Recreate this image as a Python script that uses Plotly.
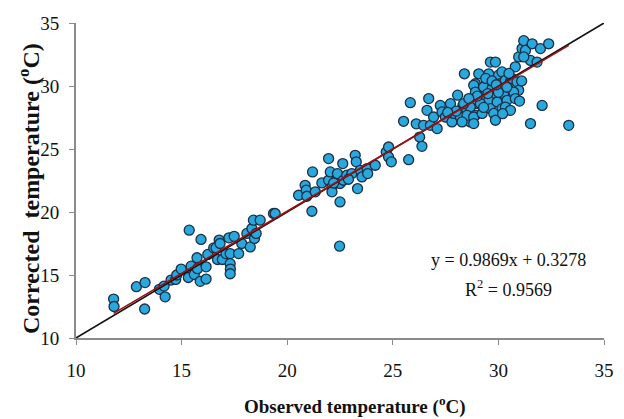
import plotly.graph_objects as go

observed = [
    11.78, 11.80, 12.86, 13.27, 13.25, 13.95, 14.17, 14.22, 14.50, 14.72, 14.77, 14.98,
    15.36, 15.32, 15.45, 15.60, 15.75, 15.73, 15.92, 15.88, 16.16, 16.16, 16.24, 16.52,
    16.63, 16.70, 16.78, 16.82, 16.93, 17.10, 17.24, 17.30, 17.30, 17.31, 17.30, 17.49,
    17.70, 17.85, 18.09, 18.25, 18.33, 18.40, 18.45, 18.53, 18.72, 19.35, 19.43, 21.17,
    20.54, 20.85, 20.90, 20.93, 21.20, 21.33, 21.64, 21.96, 21.96, 22.04, 22.12, 22.12,
    22.38, 22.50, 22.48, 22.50, 22.63, 22.66, 22.82, 23.06, 23.22, 23.27, 23.33, 23.46,
    23.54, 23.78, 23.81, 24.17, 24.69, 24.80, 24.80, 24.93, 22.20, 22.90,
    25.75, 25.51, 25.83, 26.11, 26.27, 26.38, 26.46, 26.62, 26.70, 26.78, 26.93, 27.10,
    27.25, 27.33, 27.49, 27.73, 27.80, 27.88, 28.07, 28.20, 28.32, 28.51, 28.67, 28.39,
    28.91, 28.99, 28.91,
    29.07, 29.54, 29.62, 29.86, 29.46, 30.01, 30.17, 28.83, 28.91, 29.30, 29.23, 29.70,
    30.09, 30.33, 30.57, 30.65, 30.88, 30.96, 30.72, 30.25, 29.86, 29.54, 29.15, 28.67,
    28.36, 28.51, 28.83, 29.23, 29.62, 29.94, 30.17, 30.41, 30.33, 30.57, 29.78, 29.86,
    28.28, 28.83, 32.07, 31.52, 33.33, 30.80, 30.96, 31.12, 31.20, 31.28, 31.60, 31.52,
    31.83, 31.99, 32.38, 31.20,
    29.40, 30.40, 29.00, 30.00, 29.70, 30.50, 29.30, 30.80, 28.60, 29.90, 31.10, 31.00,
    30.20, 29.50, 28.00, 27.60,
]
corrected = [
    13.09, 12.50, 14.07, 14.40, 12.30, 13.86, 14.12, 13.27, 14.60, 14.65, 15.00, 15.47,
    18.56, 14.80, 15.70, 15.05, 15.50, 16.37, 17.82, 14.50, 14.68, 15.65, 16.63, 17.15,
    17.15, 16.23, 17.77, 17.50, 16.23, 16.70, 17.95, 16.70, 15.90, 15.47, 15.10, 18.07,
    16.70, 17.50, 18.30, 17.23, 18.69, 19.35, 17.90, 18.30, 19.35, 19.88, 19.88, 20.06,
    21.33, 22.12, 21.73, 21.25, 23.18, 21.60, 22.31, 24.24, 22.52, 23.18, 22.00, 21.60,
    23.05, 20.80, 17.29, 22.26, 23.84, 22.52, 22.92, 23.05, 24.50, 23.98, 21.86, 23.31,
    22.78, 23.45, 23.05, 23.71, 24.76, 25.16, 24.37, 23.98, 22.30, 22.60,
    24.15, 27.20, 28.68, 27.00, 25.95, 25.21, 26.88, 28.07, 29.00, 26.88, 27.54, 26.62,
    28.46, 27.94, 27.54, 28.60, 27.15, 27.82, 29.27, 27.54, 28.46, 28.07, 27.15, 30.97,
    30.18, 28.60, 27.67,
    30.97, 30.97, 31.90, 31.90, 30.33, 30.86, 31.12, 30.05, 29.52, 29.92, 29.13, 29.79,
    30.18, 30.45, 30.33, 30.59, 30.33, 29.66, 29.52, 29.40, 29.13, 28.86, 28.60, 28.33,
    28.60, 27.67, 27.54, 27.82, 28.20, 28.73, 28.20, 28.86, 28.33, 28.07, 27.82, 27.28,
    27.15, 27.02, 28.46, 27.02, 26.88, 31.52, 32.31, 32.97, 33.60, 32.82, 33.35, 32.03,
    31.90, 32.97, 33.35, 32.31,
    30.60, 29.90, 29.20, 29.50, 30.40, 31.00, 28.30, 29.00, 29.00, 30.10, 30.40, 28.80,
    27.80, 29.40, 28.00, 27.90,
]

slope = 0.9869
intercept = 0.3278
r_squared = 0.9569
one_to_one = [10, 35]
fit_x = [min(observed), max(observed)]
fit_y = [slope * v + intercept for v in fit_x]

x_title = "<b>Observed temperature (<sup>o</sup>C)</b>"
y_title = "<b>Corrected  temperature (<sup>o</sup>C)</b>"

serif = "Liberation Serif, Times New Roman, serif"

fig = go.Figure()
fig.add_trace(go.Scatter(
    x=observed, y=corrected, mode="markers",
    marker=dict(size=10, color="#29a8de", line=dict(color="#1b2f45", width=1.3)),
    showlegend=False,
))
fig.add_trace(go.Scatter(
    x=one_to_one, y=one_to_one, mode="lines",
    line=dict(color="#111111", width=1.6), showlegend=False,
))
fig.add_trace(go.Scatter(
    x=fit_x, y=fit_y, mode="lines",
    line=dict(color="#a01010", width=1.6), showlegend=False,
))

fig.add_annotation(x=30.5, y=16.2, xref="x", yref="y", showarrow=False,
                   text=f"y = {slope}x + {intercept}",
                   font=dict(family=serif, size=18, color="#111"))
fig.add_annotation(x=30.5, y=13.95, xref="x", yref="y", showarrow=False,
                   text=f"R<sup>2</sup> = {r_squared}",
                   font=dict(family=serif, size=18, color="#111"))

# axis titles
fig.add_annotation(x=0.528, y=-0.213, xref="paper", yref="paper", showarrow=False,
                   text=x_title, xanchor="center", yanchor="middle",
                   font=dict(family=serif, size=19, color="#111"))
fig.add_annotation(x=-0.089, y=0.473, xref="paper", yref="paper", showarrow=False,
                   text=y_title, textangle=-90, xanchor="center", yanchor="middle",
                   font=dict(family=serif, size=24, color="#111"))

axis_common = dict(
    range=[10, 35], dtick=5, tick0=10, showgrid=False, zeroline=False,
    showline=True, linecolor="#8a8a8a", linewidth=2, automargin=False,
    ticks="outside", ticklen=5, tickcolor="#8a8a8a", tickwidth=1,
    tickfont=dict(family=serif, size=19, color="#111"),
)

fig.update_layout(
    width=616, height=411,
    margin=dict(l=68, r=20, t=15, b=81),
    paper_bgcolor="white", plot_bgcolor="white",
    xaxis=dict(**axis_common, ticklabelstandoff=9),
    yaxis=dict(**axis_common, ticklabelstandoff=6),
)

fig.write_html("out.html")
